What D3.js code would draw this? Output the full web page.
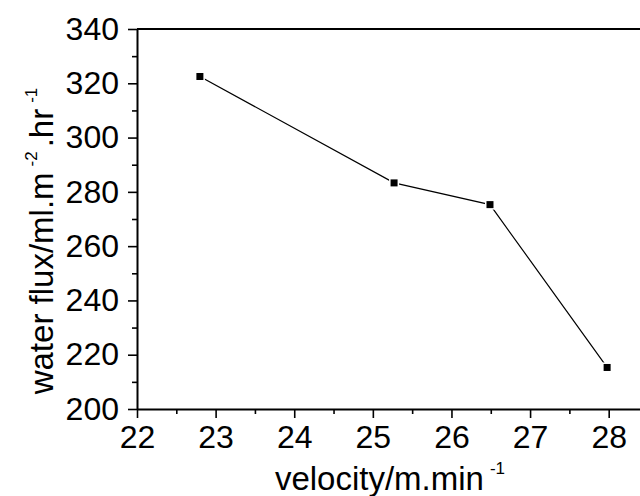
<!DOCTYPE html>
<html>
<head>
<meta charset="utf-8">
<script src="https://cdn.jsdelivr.net/npm/d3@7"></script>
<style>
  body { margin: 0; background: #fff; }
  #chart { width: 640px; height: 496px; overflow: hidden; }
  text { font-family: "Liberation Sans", Arial, sans-serif; fill: #000; }
</style>
</head>
<body>
<div id="chart"></div>
<script>
// values
const velocity = [22.8, 25.27, 26.49, 27.98];
const waterFlux = [322.5, 283.3, 275.3, 215.3];
const xTicks = [22, 23, 24, 25, 26, 27, 28];
const yTicks = [200, 220, 240, 260, 280, 300, 320, 340];

const margin = { top: 29, right: -8, bottom: 87, left: 137 };
const W = 640, H = 496;
const width = W - margin.left - margin.right;
const height = H - margin.top - margin.bottom;

const svg = d3.select("#chart").append("svg")
    .attr("width", W)
    .attr("height", H);

const g = svg.append("g")
    .attr("transform", `translate(${margin.left},${margin.top})`);

const x = d3.scaleLinear().domain([22, 28.5]).range([0, width]);
const y = d3.scaleLinear().domain([200, 340]).range([height, 0]);

// minor ticks
const xMinor = d3.range(22.5, 28.5, 1);
const yMinor = d3.range(210, 340, 20);

g.append("g")
    .attr("transform", `translate(0,${height})`)
    .call(d3.axisBottom(x).tickValues(xMinor).tickSize(5).tickFormat(""))
    .call(a => a.select(".domain").remove());
g.append("g")
    .call(d3.axisLeft(y).tickValues(yMinor).tickSize(5).tickFormat(""))
    .call(a => a.select(".domain").remove());

// main axes
g.append("g")
    .attr("transform", `translate(0,${height})`)
    .call(d3.axisBottom(x).tickValues(xTicks).tickSize(9).tickSizeOuter(0).tickPadding(7).tickFormat(d3.format("d")));
g.append("g")
    .call(d3.axisLeft(y).tickValues(yTicks).tickSize(9).tickSizeOuter(0).tickPadding(9).tickFormat(d3.format("d")));

// top frame
g.append("line")
    .attr("x1", 0).attr("x2", width)
    .attr("y1", 0).attr("y2", 0)
    .attr("stroke", "#000").attr("stroke-width", 2);

g.selectAll(".domain").attr("stroke-width", 2);
g.selectAll(".tick line").attr("stroke-width", 1.6);
g.selectAll(".tick text")
    .style("font-size", "32px")
    .style("font-family", "'Liberation Sans', Arial, sans-serif");

// data line
const line = d3.line()
    .x((d, i) => x(velocity[i]))
    .y(d => y(d));

g.append("path")
    .datum(waterFlux)
    .attr("fill", "none")
    .attr("stroke", "#000")
    .attr("stroke-width", 1.2)
    .attr("d", line);

g.selectAll(".pt")
    .data(waterFlux)
    .enter()
    .append("rect")
    .attr("class", "pt")
    .attr("x", (d, i) => x(velocity[i]) - 3.5)
    .attr("y", d => y(d) - 3.5)
    .attr("width", 7)
    .attr("height", 7)
    .attr("fill", "#000")
    .attr("stroke", "#fff")
    .attr("stroke-width", 3)
    .attr("paint-order", "stroke");

// axis titles
const xt = svg.append("text")
    .attr("x", 390)
    .attr("y", 490)
    .attr("text-anchor", "middle")
    .style("font-size", "33px");
xt.append("tspan").text("velocity/m.min");
xt.append("tspan").attr("dy", -16).attr("dx", 6).style("font-size", "17px").text("-1");

const yt = svg.append("text")
    .attr("transform", "translate(53,241) rotate(-90)")
    .attr("text-anchor", "middle")
    .style("font-size", "33px");
yt.append("tspan").text("water flux/ml.m");
yt.append("tspan").attr("dy", -16).attr("dx", 6).style("font-size", "17px").text("-2");
yt.append("tspan").attr("dy", 16).attr("dx", 4).text(".hr");
yt.append("tspan").attr("dy", -16).attr("dx", 6).style("font-size", "17px").text("-1");
</script>
</body>
</html>
